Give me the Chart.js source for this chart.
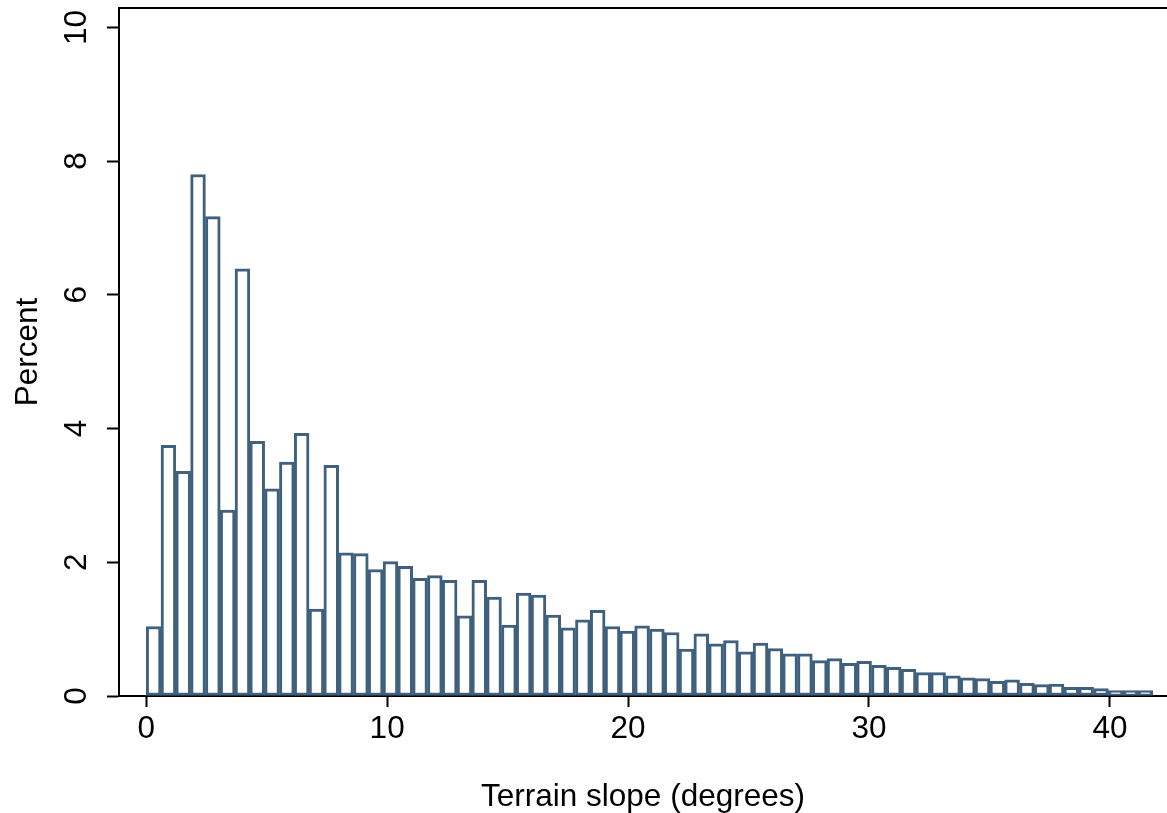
<!DOCTYPE html>
<html>
<head>
<meta charset="utf-8">
<script src="https://cdn.jsdelivr.net/npm/chart.js@4/dist/chart.umd.min.js"></script>
<style>
  html, body { margin: 0; padding: 0; background: #fff; }
  canvas { display: block; }
</style>
</head>
<body>
<canvas id="slopeChart" width="1167" height="813"></canvas>
<script>
// --- histogram data (percent per bin) ---
const binStart = 0;
const binWidth = 0.6144; // degrees per bin (68 bins)
const percents = [
  1.04, 3.75, 3.36, 7.80, 7.17, 2.78, 6.39, 3.81, 3.10, 3.50,
  3.93, 1.30, 3.45, 2.14, 2.13, 1.89, 2.01, 1.94, 1.76, 1.80,
  1.73, 1.20, 1.73, 1.48, 1.06, 1.54, 1.51, 1.21, 1.02, 1.14,
  1.28, 1.04, 0.97, 1.05, 1.00, 0.95, 0.70, 0.93, 0.78, 0.83,
  0.66, 0.79, 0.71, 0.63, 0.63, 0.53, 0.56, 0.49, 0.52, 0.46,
  0.43, 0.40, 0.35, 0.35, 0.30, 0.27, 0.26, 0.22, 0.24, 0.19,
  0.17, 0.18, 0.13, 0.13, 0.11, 0.08, 0.08, 0.08
];
const xTicks = [0, 10, 20, 30, 40];
const yTicks = [0, 2, 4, 6, 8, 10];

const FONT = '"Liberation Sans", Arial, Helvetica, sans-serif';
const FONT_SIZE = 31.5;
const barColor = '#3f617e';

// bin centres for the bar positions
const points = percents.map((p, i) => ({ x: binStart + (i + 0.5) * binWidth, y: p }));

// top frame line
const topFrame = {
  id: 'topFrame',
  afterDraw(chart) {
    const { ctx, chartArea } = chart;
    ctx.save();
    ctx.strokeStyle = '#000';
    ctx.lineWidth = 2;
    ctx.beginPath();
    ctx.moveTo(chartArea.left - 1, chartArea.top);
    ctx.lineTo(chartArea.right, chartArea.top);
    ctx.stroke();
    ctx.restore();
  }
};

function noPad(s) {
  s.paddingTop = 0; s.paddingBottom = 0; s.paddingLeft = 0; s.paddingRight = 0;
}

new Chart(document.getElementById('slopeChart'), {
  type: 'bar',
  data: {
    datasets: [{
      data: points,
      backgroundColor: '#ffffff',
      borderColor: barColor,
      borderWidth: 3,
      borderSkipped: false,
      barPercentage: 1,
      categoryPercentage: 1
    }]
  },
  options: {
    responsive: false,
    animation: false,
    layout: { padding: { top: 8, right: 0, left: 0, bottom: 0 } },
    plugins: { legend: { display: false }, tooltip: { enabled: false } },
    scales: {
      x: {
        type: 'linear',
        offset: false,
        min: -1.13,
        max: 42.37,
        afterFit: s => { s.height = 117; noPad(s); },
        afterBuildTicks: s => { s.ticks = xTicks.map(v => ({ value: v })); },
        grid: { offset: false, drawOnChartArea: false, drawTicks: true, tickLength: 11, tickWidth: 2, tickColor: '#000' },
        border: { display: true, color: '#000', width: 2 },
        ticks: { color: '#000', padding: 3, maxRotation: 0, font: { family: FONT, size: FONT_SIZE } },
        title: {
          display: true,
          text: 'Terrain slope (degrees)',
          color: '#000',
          font: { family: FONT, size: FONT_SIZE },
          padding: { top: 0, bottom: -3 }
        }
      },
      y: {
        min: 0,
        max: 10.29,
        afterFit: s => { s.width = 119; noPad(s); },
        afterBuildTicks: s => { s.ticks = yTicks.map(v => ({ value: v })); },
        grid: { drawOnChartArea: false, drawTicks: true, tickLength: 12, tickWidth: 2, tickColor: '#000' },
        border: { display: true, color: '#000', width: 2 },
        ticks: {
          color: '#000',
          padding: 12,
          minRotation: 90,
          maxRotation: 90,
          crossAlign: 'center',
          font: { family: FONT, size: FONT_SIZE }
        },
        title: {
          display: true,
          text: 'Percent',
          color: '#000',
          font: { family: FONT, size: FONT_SIZE },
          padding: { top: 9, bottom: 0 }
        }
      }
    }
  },
  plugins: [topFrame]
});
</script>
</body>
</html>
